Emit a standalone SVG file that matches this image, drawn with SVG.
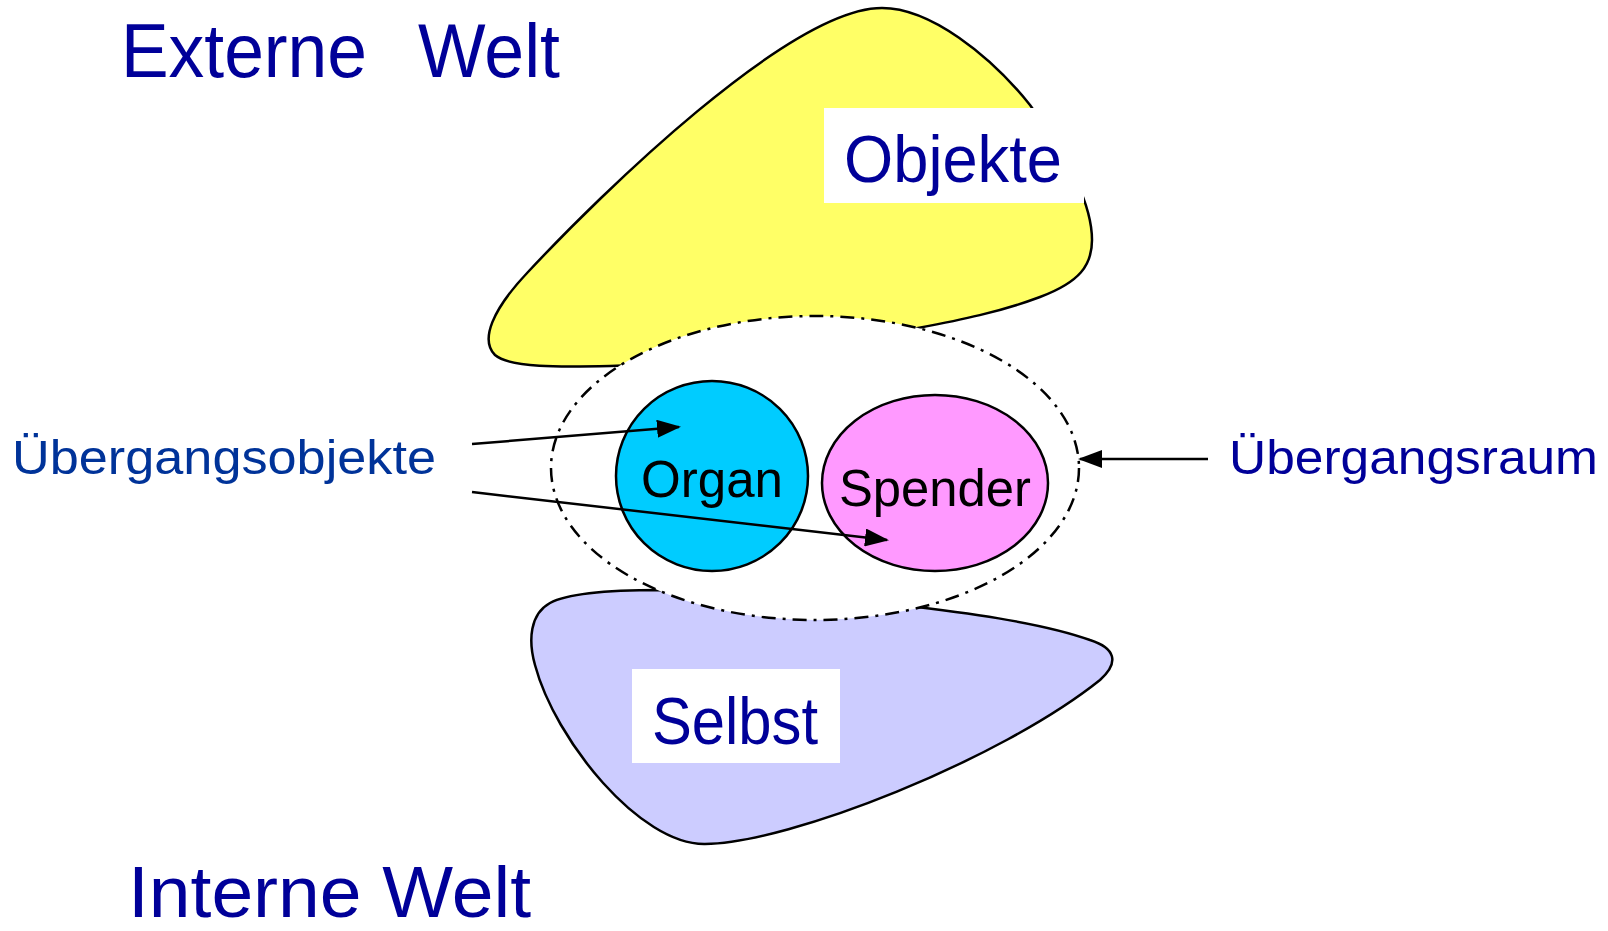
<svg xmlns="http://www.w3.org/2000/svg" width="1608" height="931" viewBox="0 0 1608 931">
<defs>
<marker id="arr" markerWidth="24" markerHeight="18" refX="22" refY="9" orient="auto" markerUnits="userSpaceOnUse">
<path d="M0,0 L24,9 L0,18 Z" fill="#000"/>
</marker>
<style>
.t{font-family:"Liberation Sans",Arial,sans-serif;fill:#000099}
.shape{stroke:#000;stroke-width:2.5}
.conn{stroke:#000;stroke-width:2.5;fill:none}
</style>
</defs>
<rect width="1608" height="931" fill="#fff"/>
<text class="t" x="121" y="77" font-size="76" textLength="246" lengthAdjust="spacingAndGlyphs">Externe</text>
<text class="t" x="418" y="77" font-size="76" textLength="142" lengthAdjust="spacingAndGlyphs">Welt</text>
<text class="t" x="128" y="917" font-size="72" textLength="403" lengthAdjust="spacingAndGlyphs">Interne Welt</text>
<g id="objekte">
<path class="shape" fill="#FFFF66" d="M882,8 C930,8 990,55 1030,105 C1070,160 1092,205 1092,240 C1092,265 1080,282 1040,297 C1000,312 960,320 918,328 C820,352 700,364 610,366 C560,367 510,368 495,355 C480,340 492,310 528,272 C600,195 790,8 882,8 Z"/>
<rect x="824" y="108" width="260" height="95" fill="#fff"/>
<text class="t" x="844" y="182" font-size="66" textLength="218" lengthAdjust="spacingAndGlyphs">Objekte</text>
</g>
<g id="selbst">
<path class="shape" fill="#CCCCFF" d="M660,590 C620,590 570,592 550,603 C530,614 528,640 535,665 C555,740 640,845 705,844 C790,843 1000,760 1100,680 C1120,662 1115,648 1090,640 C1040,622 960,612 900,605 Z"/>
<rect x="632" y="669" width="208" height="94" fill="#fff"/>
<text class="t" x="652" y="744" font-size="66" textLength="166" lengthAdjust="spacingAndGlyphs">Selbst</text>
</g>
<g id="uebergangsraum">
<ellipse cx="815" cy="468" rx="264" ry="152" fill="#fff" stroke="#000" stroke-width="2.5" stroke-dasharray="14 7 3 7"/>
</g>
<g id="organ">
<ellipse cx="712" cy="476" rx="96" ry="95" fill="#00CCFF" class="shape"/>
<text x="641" y="497" font-family="Liberation Sans,Arial,sans-serif" font-size="52" textLength="142" lengthAdjust="spacingAndGlyphs">Organ</text>
</g>
<g id="spender">
<ellipse cx="935" cy="483" rx="113" ry="88" fill="#FF99FF" class="shape"/>
<text x="839" y="506" font-family="Liberation Sans,Arial,sans-serif" font-size="52" textLength="192" lengthAdjust="spacingAndGlyphs">Spender</text>
</g>
<text x="12" y="474" font-family="Liberation Sans,Arial,sans-serif" font-size="48" fill="#003399" textLength="424" lengthAdjust="spacingAndGlyphs">Übergangsobjekte</text>
<text class="t" x="1229" y="474" font-size="48" textLength="369" lengthAdjust="spacingAndGlyphs">Übergangsraum</text>
<g id="connectors">
<line class="conn" x1="472" y1="444" x2="679" y2="427" marker-end="url(#arr)"/>
<line class="conn" x1="472" y1="492" x2="887" y2="540" marker-end="url(#arr)"/>
<line class="conn" x1="1208" y1="459" x2="1080" y2="459" marker-end="url(#arr)"/>
</g>
</svg>
